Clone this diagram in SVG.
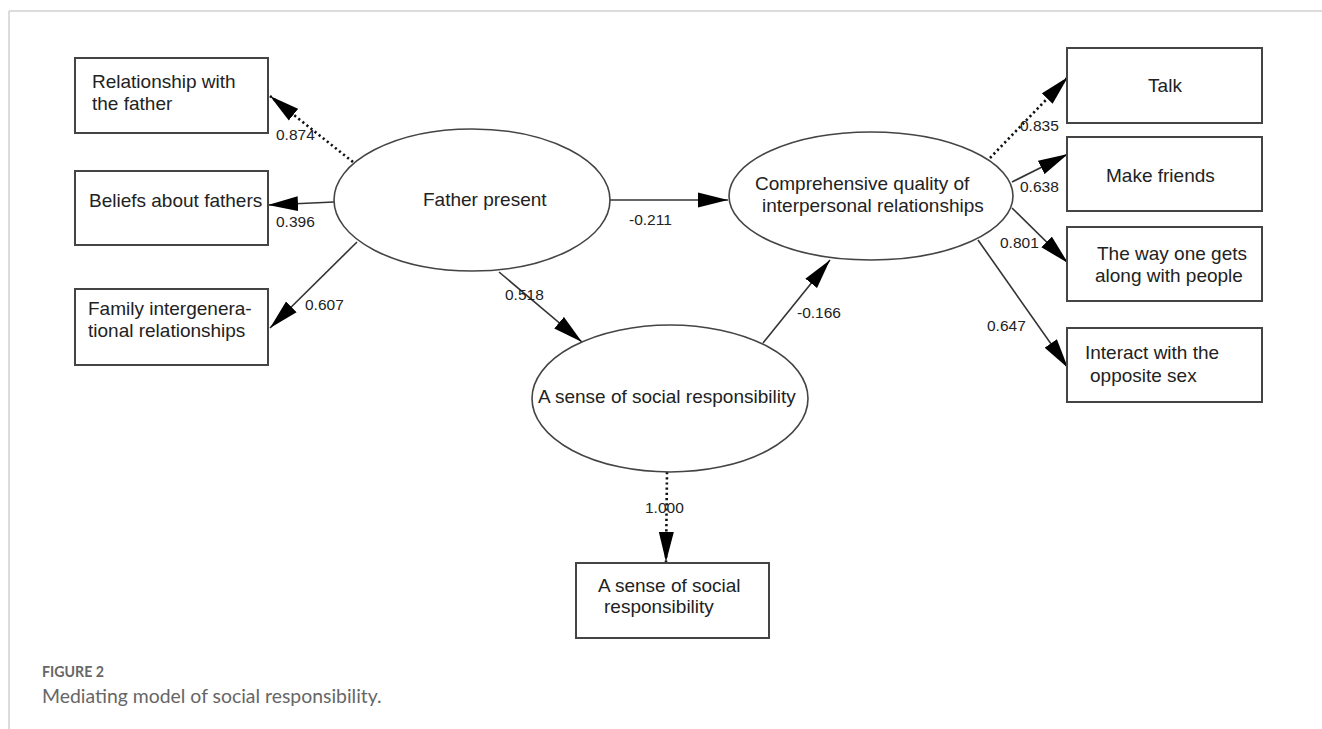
<svg xmlns="http://www.w3.org/2000/svg" width="1322" height="729" viewBox="0 0 1322 729">
<defs>
<style>
.box{fill:#fff;stroke:#444;stroke-width:2}
.ell{fill:#fff;stroke:#444;stroke-width:1.6}
.t{font-family:"Liberation Sans",Arial,sans-serif;font-size:19px;fill:#222}
.lbl{font-family:"Liberation Sans",Arial,sans-serif;font-size:15.5px;fill:#222}
.ln{stroke:#333;stroke-width:1.6;fill:none;marker-end:url(#ah)}
.dt{stroke:#111;stroke-width:2.6;stroke-dasharray:2.2 3;fill:none;marker-end:url(#ah)}
.cap1{font-family:Lato,"Open Sans",sans-serif;font-size:14.2px;font-weight:700;fill:#666}
.cap2{font-family:Lato,"Open Sans",sans-serif;font-size:19.4px;fill:#666}
</style>
<marker id="ah" markerUnits="userSpaceOnUse" markerWidth="30" markerHeight="16" refX="30" refY="7.5" orient="auto" viewBox="0 0 30 15">
<path d="M0,0 L30,7.5 L0,15 Z" fill="#000"/>
</marker>
</defs>
<rect width="1322" height="729" fill="#fff"/>
<g id="frame" stroke="#d0d0d0" stroke-width="1.5">
<line x1="9" y1="11" x2="1322" y2="11"/>
<line x1="9" y1="11" x2="9" y2="729"/>
</g>
<g id="connectors">
<line class="dt" x1="353" y1="162" x2="270" y2="96"/>
<line class="ln" x1="334" y1="202" x2="268" y2="205"/>
<line class="ln" x1="357" y1="242" x2="270" y2="328"/>
<line class="ln" x1="610" y1="200" x2="728" y2="200"/>
<line class="ln" x1="499" y1="272" x2="582" y2="342"/>
<line class="ln" x1="763" y1="343" x2="830" y2="260"/>
<line class="dt" x1="990" y1="158" x2="1068" y2="77"/>
<line class="ln" x1="1012" y1="182" x2="1068" y2="154"/>
<line class="ln" x1="1012" y1="208" x2="1068" y2="263"/>
<line class="ln" x1="978" y1="240" x2="1068" y2="368"/>
<line class="dt" x1="667" y1="472" x2="666" y2="562"/>
<text class="lbl" x="276" y="140">0.874</text>
<text class="lbl" x="276" y="227">0.396</text>
<text class="lbl" x="305" y="310">0.607</text>
<text class="lbl" x="629" y="225">-0.211</text>
<text class="lbl" x="505" y="300">0.518</text>
<text class="lbl" x="797" y="318">-0.166</text>
<text class="lbl" x="1020" y="131">0.835</text>
<text class="lbl" x="1020" y="192">0.638</text>
<text class="lbl" x="1000" y="248">0.801</text>
<text class="lbl" x="987" y="331">0.647</text>
<text class="lbl" x="645" y="513">1.000</text>
</g>
<g id="n-relationship-father">
<rect class="box" x="75" y="58" width="193" height="75"/>
<text class="t" x="92" y="88">Relationship with</text>
<text class="t" x="92" y="110">the father</text>
</g>
<g id="n-beliefs">
<rect class="box" x="75" y="171" width="193" height="74"/>
<text class="t" x="89" y="207">Beliefs about fathers</text>
</g>
<g id="n-family">
<rect class="box" x="75" y="289" width="193" height="76"/>
<text class="t" x="88" y="315">Family intergenera-</text>
<text class="t" x="88" y="337">tional relationships</text>
</g>
<g id="n-father-present">
<ellipse class="ell" cx="472" cy="200" rx="138" ry="71"/>
<text class="t" x="423" y="206">Father present</text>
</g>
<g id="n-comprehensive">
<ellipse class="ell" cx="871" cy="196" rx="142" ry="64"/>
<text class="t" x="755" y="190">Comprehensive quality of</text>
<text class="t" x="762" y="212">interpersonal relationships</text>
</g>
<g id="n-social-latent">
<ellipse class="ell" cx="670" cy="398.5" rx="138" ry="73.5"/>
<text class="t" x="538" y="403">A sense of social responsibility</text>
</g>
<g id="n-social-observed">
<rect class="box" x="576" y="563" width="193" height="75"/>
<text class="t" x="598" y="592">A sense of social</text>
<text class="t" x="604" y="613">responsibility</text>
</g>
<g id="n-talk">
<rect class="box" x="1067" y="48" width="195" height="75"/>
<text class="t" x="1165" y="92" text-anchor="middle">Talk</text>
</g>
<g id="n-friends">
<rect class="box" x="1067" y="137" width="195" height="74"/>
<text class="t" x="1106" y="182">Make friends</text>
</g>
<g id="n-way">
<rect class="box" x="1067" y="227" width="195" height="74"/>
<text class="t" x="1097" y="260">The way one gets</text>
<text class="t" x="1095" y="282">along with people</text>
</g>
<g id="n-interact">
<rect class="box" x="1067" y="328" width="195" height="74"/>
<text class="t" x="1085" y="359">Interact with the</text>
<text class="t" x="1090" y="382">opposite sex</text>
</g>
<g id="caption">
<text class="cap1" x="42" y="677">FIGURE 2</text>
<text class="cap2" x="42" y="703">Mediating model of social responsibility.</text>
</g>
</svg>
